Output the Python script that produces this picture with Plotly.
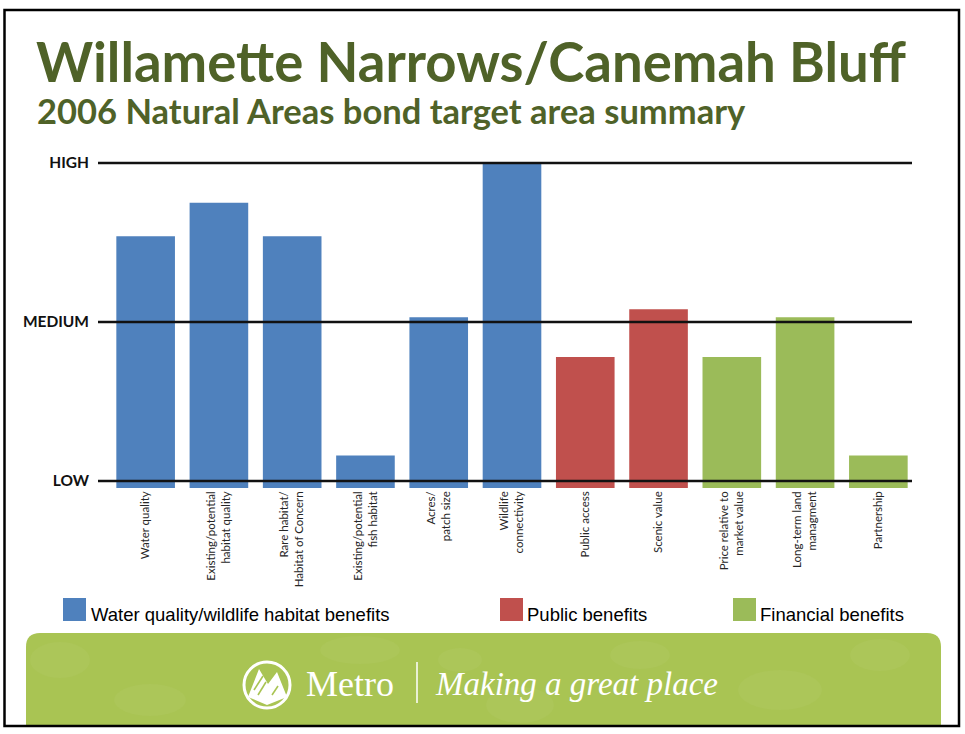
import plotly.graph_objects as go

# ---- data ---------------------------------------------------------------
criteria = [
    "Water quality",
    "Existing/potential<br>habitat quality",
    "Rare habitat/<br>Habitat of Concern",
    "Existing/potential<br>fish habitat",
    "Acres/<br>patch size",
    "Wildlife<br>connectivity",
    "Public access",
    "Scenic value",
    "Price relative to<br>market value",
    "Long-term land<br>managment",
    "Partnership",
]
# rating on a LOW (1) - MEDIUM (2) - HIGH (3) scale
scores = [2.54, 2.75, 2.54, 1.16, 2.03, 3.0, 1.78, 2.08, 1.78, 2.03, 1.16]
benefit_group = ["habitat"] * 6 + ["public"] * 2 + ["financial"] * 3

level_values = [1, 2, 3]
level_labels = ["LOW", "MEDIUM", "HIGH"]

group_keys = ["habitat", "public", "financial"]
group_names = ["Water quality/wildlife habitat benefits", "Public benefits", "Financial benefits"]
group_colors = {"habitat": "#4F81BD", "public": "#C0504D", "financial": "#9BBB59"}

title_text = "Willamette Narrows/Canemah Bluff"
subtitle_text = "2006 Natural Areas bond target area summary"

# ---- page geometry (pixels) ----------------------------------------------
W, H = 965, 734
ML, MR, MT, MB = 109, 50, 150, 246
PW, PH = W - ML - MR, H - MT - MB


def px(x):
    """pixel column -> paper x"""
    return (x - ML) / PW


def py(y):
    """pixel row (from top) -> paper y"""
    return (H - MB - y) / PH


TITLE_GREEN = "#4F6228"
BANNER_GREEN = "#A9C453"

fig = go.Figure()

fig.add_trace(
    go.Bar(
        x=criteria,
        y=scores,
        marker=dict(color=[group_colors[g] for g in benefit_group], line=dict(width=0)),
        hoverinfo="x+y",
        showlegend=False,
    )
)

shapes = []

# level reference lines
for v in level_values:
    shapes.append(dict(type="line", xref="paper", yref="y", x0=px(98), x1=px(912), y0=v, y1=v,
                       line=dict(color="#111111", width=2.5), layer="above"))

# legend swatches
legend_x = [63, 500, 733]
for gx, key in zip(legend_x, group_keys):
    shapes.append(dict(type="rect", xref="paper", yref="paper",
                       x0=px(gx), x1=px(gx + 23), y0=py(621), y1=py(598),
                       fillcolor=group_colors[key], line=dict(width=0)))

# footer banner with rounded top corners
bx0, bx1, by0, by1, r = 26, 941, 633, 727, 14
banner_path = (
    f"M {px(bx0)},{py(by1)} L {px(bx0)},{py(by0 + r)} "
    f"Q {px(bx0)},{py(by0)} {px(bx0 + r)},{py(by0)} "
    f"L {px(bx1 - r)},{py(by0)} Q {px(bx1)},{py(by0)} {px(bx1)},{py(by0 + r)} "
    f"L {px(bx1)},{py(by1)} Z"
)
shapes.append(dict(type="path", xref="paper", yref="paper", path=banner_path,
                   fillcolor=BANNER_GREEN, line=dict(width=0), layer="below"))

# faint leaf texture on the banner
leaf_spots = [(60, 660, 30, 18), (150, 700, 36, 16), (360, 650, 40, 14), (520, 705, 34, 18),
              (640, 655, 30, 14), (780, 690, 42, 20), (880, 655, 30, 16), (460, 660, 22, 12)]
for cx, cy, rx, ry in leaf_spots:
    shapes.append(dict(type="circle", xref="paper", yref="paper",
                       x0=px(cx - rx), x1=px(cx + rx), y0=py(cy + ry), y1=py(cy - ry),
                       fillcolor="rgba(255,255,255,0.035)", line=dict(width=0), layer="below"))

# Metro logo: ring with two peaks
shapes.append(dict(type="circle", xref="paper", yref="paper",
                   x0=px(244), x1=px(290), y0=py(708), y1=py(662),
                   line=dict(color="white", width=3), fillcolor=BANNER_GREEN))
peaks = [(248, 697), (259, 669), (268, 684), (277, 672), (287, 697), (267, 705)]
peak_path = "M " + " L ".join(f"{px(a)},{py(b)}" for a, b in peaks) + " Z"
shapes.append(dict(type="path", xref="paper", yref="paper", path=peak_path,
                   fillcolor="white", line=dict(width=0)))
for (a0, b0, a1, b1) in [(254, 690, 263, 676), (258, 695, 266, 682), (272, 695, 278, 686)]:
    shapes.append(dict(type="line", xref="paper", yref="paper",
                       x0=px(a0), y0=py(b0), x1=px(a1), y1=py(b1),
                       line=dict(color=BANNER_GREEN, width=1.6)))

# separator bar in the banner
shapes.append(dict(type="line", xref="paper", yref="paper",
                   x0=px(417), x1=px(417), y0=py(703), y1=py(662),
                   line=dict(color="white", width=1.5)))

# slide frame
shapes.append(dict(type="rect", xref="paper", yref="paper",
                   x0=px(4.5), x1=px(959), y0=py(726), y1=py(10),
                   line=dict(color="black", width=2.5), fillcolor="rgba(0,0,0,0)", layer="above"))

annotations = []
annotations.append(dict(text=f"<b>{subtitle_text}</b>", xref="paper", yref="paper",
                        x=px(35), y=py(111), xanchor="left", yanchor="middle", showarrow=False,
                        font=dict(family="Lato", size=34.5, color=TITLE_GREEN)))

legend_text_x = [89, 525, 758]
for tx, name in zip(legend_text_x, group_names):
    annotations.append(dict(text=name, xref="paper", yref="paper", x=px(tx), y=py(614),
                            xanchor="left", yanchor="middle", showarrow=False,
                            font=dict(family="Liberation Sans", size=18.5, color="black")))

annotations.append(dict(text="Metro", xref="paper", yref="paper", x=px(304), y=py(684),
                        xanchor="left", yanchor="middle", showarrow=False,
                        font=dict(family="Liberation Serif", size=36, color="white")))
annotations.append(dict(text="<i>Making a great place</i>", xref="paper", yref="paper",
                        x=px(433), y=py(684), xanchor="left", yanchor="middle", showarrow=False,
                        font=dict(family="Liberation Serif", size=33, color="white")))

fig.update_layout(
    width=W,
    height=H,
    margin=dict(l=ML, r=MR, t=MT, b=MB, pad=0),
    paper_bgcolor="white",
    plot_bgcolor="white",
    bargap=0.2,
    title=dict(text=f"<b>{title_text}</b>", x=36 / W, xref="container", xanchor="left",
               y=1 - 63 / H, yref="container", yanchor="middle",
               font=dict(family="Lato", size=54.5, color=TITLE_GREEN)),
    xaxis=dict(
        type="category",
        tickangle=-90,
        showgrid=False,
        showline=False,
        zeroline=False,
        ticks="",
        tickfont=dict(family="Lato", size=11.5, color="#262626"),
    ),
    yaxis=dict(
        range=[0.956, 3.082],
        tickvals=level_values,
        ticktext=level_labels,
        showgrid=False,
        zeroline=False,
        showline=False,
        ticks="",
        ticklabelstandoff=19,
        tickfont=dict(family="Lato", size=15.5, color="#111111", weight="bold"),
    ),
    shapes=shapes,
    annotations=annotations,
    showlegend=False,
)

fig.write_html("out.html")
